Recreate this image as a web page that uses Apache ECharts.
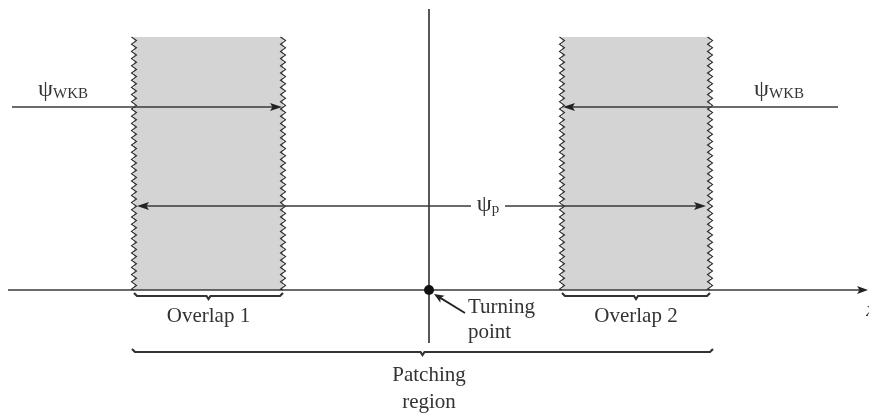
<!DOCTYPE html>
<html><head><meta charset="utf-8">
<script src="https://cdn.jsdelivr.net/npm/echarts@6/dist/echarts.min.js"></script>
<style>html,body{margin:0;padding:0;background:#fff}#c{width:869px;height:416px}</style>
</head><body><div id="c"></div>
<script>
// Position units: turning point at x=0, axis at y=0
const overlapRegions = [[-295, -146], [133, 281]];
const overlapNames = ['Overlap 1', 'Overlap 2'];
const regionTop = 253;
const wkbArrows = [[-417, -147], [409, 134]]; // [from, to]
const wkbY = 183;
const wkbLabelX = [-366, 350];
const psiPRange = [-292, 277];
const psiPGap = [42, 76];
const psiPY = 84;
const axisRange = [-421, 439];
const turningPoint = [0, 0];
const verticalRange = [-53, 281];
const overlapBracketY = -6;
const patchingRange = [-297, 284];
const patchingY = -62;
const turningArrow = [[36, -23], [5, -4]];

const FONT = '"Liberation Serif", "DejaVu Serif", serif';
const INK = '#3a3a3a';

function zigzag(api, x, y0, y1) {
  const top = api.coord([x, y0]), bot = api.coord([x, y1]);
  const pts = [];
  const step = 3.6, amp = 2.5;
  let i = 0;
  for (let y = top[1]; y <= bot[1]; y += step, i++) {
    pts.push([top[0] + (i % 2 ? amp : -amp), y]);
  }
  pts.push([bot[0], bot[1]]);
  return pts;
}

function arrowHead(p, q, len, half) {
  const dx = q[0] - p[0], dy = q[1] - p[1];
  const L = Math.hypot(dx, dy), ux = dx / L, uy = dy / L;
  const bx = q[0] - ux * len, by = q[1] - uy * len;
  return {
    type: 'polygon',
    shape: { points: [[q[0], q[1]], [bx - uy * half, by + ux * half], [bx + ux * 2.5, by + uy * 2.5], [bx + uy * half, by - ux * half]] },
    style: { fill: '#222' }
  };
}

function line(a, b, w, c) {
  return { type: 'line', shape: { x1: a[0], y1: a[1], x2: b[0], y2: b[1] }, style: { stroke: c || INK, lineWidth: w || 1.6 } };
}

function bracket(api, x0, x1, y, tick) {
  const a = api.coord([x0, y]), b = api.coord([x1, y]);
  const m = (a[0] + b[0]) / 2;
  return {
    type: 'polyline',
    shape: { points: [[a[0], a[1] - 3], [a[0] + 3, a[1]], [m - 2, a[1]], [m, a[1] + tick], [m + 2, a[1]], [b[0] - 3, b[1]], [b[0], b[1] - 3]] },
    style: { stroke: '#333', lineWidth: 2.2, fill: null }
  };
}

function text(api, x, y, t, extra) {
  const p = api.coord([x, y]);
  return {
    type: 'text', x: p[0], y: p[1],
    style: Object.assign({ text: t, font: '21px ' + FONT, fill: '#333', align: 'center', verticalAlign: 'middle' }, extra || {})
  };
}

function renderItem(params, api) {
  const ch = [];
  overlapRegions.forEach(r => {
    const tl = api.coord([r[0], regionTop]), br = api.coord([r[1], 0]);
    ch.push({ type: 'rect', shape: { x: tl[0], y: tl[1], width: br[0] - tl[0], height: br[1] - tl[1] }, style: { fill: '#d4d4d4' } });
  });
  const ax0 = api.coord([axisRange[0], 0]), ax1 = api.coord([axisRange[1], 0]);
  ch.push(line(ax0, [ax1[0] - 6, ax1[1]], 1.7));
  ch.push(arrowHead(ax0, ax1, 11, 4));
  ch.push(line(api.coord([0, verticalRange[0]]), api.coord([0, verticalRange[1]]), 1.7));
  overlapRegions.forEach(r => {
    r.forEach(x => {
      ch.push({ type: 'polyline', shape: { points: zigzag(api, x, regionTop, 0) }, style: { stroke: '#2a2a2a', lineWidth: 1.1, fill: null } });
    });
  });
  wkbArrows.forEach(a => {
    const p = api.coord([a[0], wkbY]), q = api.coord([a[1], wkbY]);
    const dir = Math.sign(q[0] - p[0]);
    ch.push(line(p, [q[0] - dir * 6, q[1]], 1.7));
    ch.push(arrowHead(p, q, 12, 4));
  });
  const pl = api.coord([psiPRange[0], psiPY]), pr = api.coord([psiPRange[1], psiPY]);
  const gl = api.coord([psiPGap[0], psiPY]), gr = api.coord([psiPGap[1], psiPY]);
  ch.push(line([pl[0] + 6, pl[1]], gl, 1.7));
  ch.push(line(gr, [pr[0] - 6, pr[1]], 1.7));
  ch.push(arrowHead(pr, pl, 12, 4));
  ch.push(arrowHead(pl, pr, 12, 4));
  overlapRegions.forEach(r => ch.push(bracket(api, r[0], r[1], overlapBracketY, 3)));
  ch.push(bracket(api, patchingRange[0], patchingRange[1], patchingY, 3));
  const tp = api.coord(turningPoint);
  ch.push({ type: 'circle', shape: { cx: tp[0], cy: tp[1], r: 5 }, style: { fill: '#111' } });
  const ta0 = api.coord(turningArrow[0]), ta1 = api.coord(turningArrow[1]);
  const dx = ta1[0] - ta0[0], dy = ta1[1] - ta0[1], L = Math.hypot(dx, dy);
  ch.push(line(ta0, [ta1[0] - dx / L * 6, ta1[1] - dy / L * 6], 1.8, '#222'));
  ch.push(arrowHead(ta0, ta1, 10, 4));
  const rich = {
    a: { font: '24px ' + FONT, fill: '#333', verticalAlign: 'bottom', lineHeight: 24 },
    s: { font: '15px ' + FONT, fill: '#333', verticalAlign: 'bottom', lineHeight: 19 }
  };
  wkbLabelX.forEach(x => ch.push(text(api, x, wkbY + 17, '{a|ψ}{s|WKB}', { rich: rich })));
  ch.push(text(api, (psiPGap[0] + psiPGap[1]) / 2, psiPY + 1, '{a|ψ}{s|p}', { rich: rich }));
  overlapRegions.forEach((r, i) => ch.push(text(api, (r[0] + r[1]) / 2, overlapBracketY - 20, overlapNames[i])));
  ch.push(text(api, 39, -17, 'Turning', { align: 'left' }));
  ch.push(text(api, 39, -42, 'point', { align: 'left' }));
  ch.push(text(api, 0, -85, 'Patching'));
  ch.push(text(api, 0, -112, 'region'));
  ch.push(text(api, axisRange[1] + 3, -20, 'x', { align: 'center', font: 'italic 21px ' + FONT }));
  return { type: 'group', children: ch };
}

const chart = echarts.init(document.getElementById('c'), null, { renderer: 'canvas' });
chart.setOption({
  animation: false,
  backgroundColor: '#fff',
  grid: { left: 0, right: 0, top: 0, bottom: 0 },
  xAxis: { type: 'value', min: -429, max: 440, show: false },
  yAxis: { type: 'value', min: -126, max: 290, show: false },
  series: [{ type: 'custom', renderItem: renderItem, data: [0], clip: false, silent: true }]
});
</script>
</body></html>
